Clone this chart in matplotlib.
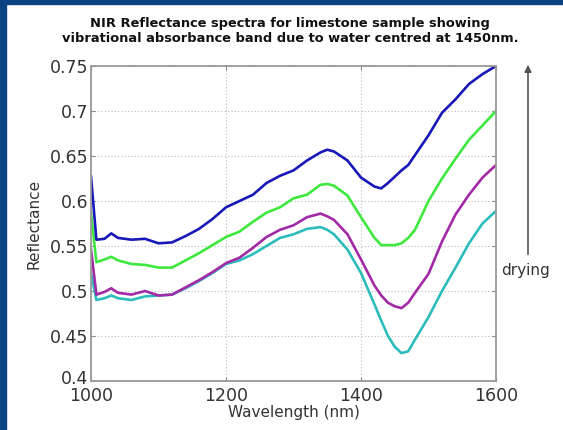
import matplotlib
matplotlib.use("Agg")
from matplotlib import pyplot as plt
from matplotlib.patches import Rectangle
from matplotlib.transforms import ScaledTranslation

# wavelength grid (nm) and reflectance of the four spectra, wet -> dry
wavelength = [1000, 1008, 1020, 1030, 1040, 1060, 1080, 1100, 1120, 1140,
              1160, 1180, 1200, 1220, 1240, 1260, 1280, 1300, 1320, 1340,
              1350, 1360, 1380, 1400, 1420, 1430, 1440, 1450, 1460, 1470,
              1480, 1500, 1520, 1540, 1560, 1580, 1600]

blue = [0.627, 0.557, 0.558, 0.564, 0.559, 0.557, 0.558, 0.553, 0.554, 0.561,
        0.569, 0.580, 0.593, 0.600, 0.607, 0.620, 0.628, 0.634, 0.645, 0.654,
        0.657, 0.655, 0.645, 0.626, 0.616, 0.614, 0.620, 0.627, 0.634, 0.640,
        0.651, 0.673, 0.698, 0.713, 0.730, 0.741, 0.750]

green = [0.587, 0.532, 0.535, 0.538, 0.534, 0.530, 0.529, 0.526, 0.526, 0.534,
         0.542, 0.551, 0.560, 0.566, 0.577, 0.587, 0.593, 0.603, 0.607, 0.618,
         0.619, 0.617, 0.606, 0.582, 0.559, 0.551, 0.551, 0.551, 0.553, 0.559,
         0.568, 0.600, 0.625, 0.647, 0.668, 0.684, 0.700]

magenta = [0.546, 0.496, 0.499, 0.503, 0.498, 0.496, 0.500, 0.495, 0.496, 0.504,
           0.512, 0.521, 0.531, 0.537, 0.548, 0.560, 0.568, 0.573, 0.582, 0.586,
           0.583, 0.579, 0.563, 0.535, 0.506, 0.495, 0.487, 0.483, 0.481, 0.487,
           0.498, 0.519, 0.555, 0.585, 0.607, 0.626, 0.640]

cyan = [0.520, 0.490, 0.492, 0.495, 0.492, 0.490, 0.494, 0.495, 0.496, 0.503,
        0.511, 0.520, 0.530, 0.534, 0.541, 0.550, 0.559, 0.563, 0.569, 0.571,
        0.568, 0.563, 0.546, 0.520, 0.485, 0.467, 0.450, 0.438, 0.431, 0.433,
        0.446, 0.471, 0.500, 0.526, 0.553, 0.575, 0.589]

xticks = [1000, 1200, 1400, 1600]
yticks = [0.4, 0.45, 0.5, 0.55, 0.6, 0.65, 0.7, 0.75]
ytick_labels = ["0.4", "0.45", "0.5", "0.55", "0.6", "0.65", "0.7", "0.75"]

fig = plt.figure(figsize=(5.63, 4.30), dpi=100)
ax = fig.add_axes([91 / 563, 49 / 430, 405 / 563, 315 / 430])

ax.plot(wavelength, cyan, color="#2cbcbc", lw=1.9)
ax.plot(wavelength, magenta, color="#a32aa6", lw=1.9)
ax.plot(wavelength, green, color="#3ee83e", lw=1.9)
ax.plot(wavelength, blue, color="#1818b8", lw=1.9)

ax.set_xlim(1000, 1600)
ax.set_ylim(0.4, 0.75)
ax.set_xticks(xticks)
ax.set_yticks(yticks)
ax.set_yticklabels(ytick_labels)
ax.tick_params(direction="in", length=3, color="#888888", labelsize=12.5,
               labelcolor="#333333", top=True, right=True, pad=2)
ax.tick_params(axis="x", pad=4)
ax.grid(True, linestyle=(0, (1, 2)), color="#bbbbbb", lw=0.8)
for s in ax.spines.values():
    s.set_color("#999999")
    s.set_linewidth(1.3)

# lift the bottom "0.4" label a touch so it sits just above "1000"
lbl = ax.get_yticklabels()[0]
lbl.set_transform(lbl.get_transform() + ScaledTranslation(0, 4 / 100, fig.dpi_scale_trans))

ax.set_xlabel("Wavelength (nm)", fontsize=11, color="#333333", labelpad=0)
ax.set_ylabel("Reflectance", fontsize=11, color="#333333", labelpad=6)

fig.text(0.515, 1 - 31 / 430,
         "NIR Reflectance spectra for limestone sample showing\n"
         "vibrational absorbance band due to water centred at 1450nm.",
         ha="center", va="center", fontsize=9.4, fontweight="bold",
         color="#111111", linespacing=1.25)

# "drying" arrow at the right
ax.annotate("", xy=(528 / 563, 1 - 62 / 430), xytext=(528 / 563, 1 - 257 / 430),
            xycoords="figure fraction", textcoords="figure fraction",
            arrowprops=dict(arrowstyle="-|>", color="#555555", lw=1.2,
                            mutation_scale=10))
fig.text(525 / 563, 1 - 270 / 430, "drying", ha="center", va="center",
         fontsize=11, color="#333333")

# blue frame on the top and left edges
fig.patches.append(Rectangle((0, 0), 6 / 563, 1, transform=fig.transFigure,
                             color="#0b4383", zorder=10))
fig.patches.append(Rectangle((0, 1 - 4 / 430), 1, 4 / 430,
                             transform=fig.transFigure, color="#0b4383", zorder=10))

fig.savefig("out.png", dpi=100)
